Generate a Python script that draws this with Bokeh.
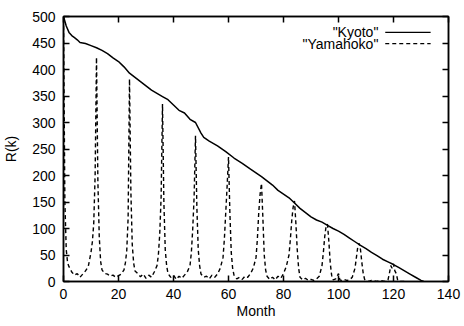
from bokeh.plotting import figure
from bokeh.models import LinearAxis, FixedTicker, Label, Arrow, CustomLabelingPolicy
from bokeh.embed import file_html
from bokeh.resources import INLINE

# ---- data ----
kyoto_month = [0, 1, 2, 3, 4, 5, 6, 7, 8, 10, 12, 14, 16, 18, 20, 22, 24, 26, 28, 30,
               32, 34, 36, 38, 40, 42, 44, 46, 48, 50, 51, 53, 56, 59, 62, 65, 68, 70,
               72, 74, 76, 78, 80, 82, 84, 86, 88, 90, 92, 94, 96, 98, 100, 102, 104,
               106, 108, 110, 112, 114, 116, 118, 120, 122, 124, 126, 128, 130, 131]
kyoto_r = [500, 482, 470, 464, 460, 456, 451, 450, 449, 445, 441, 436, 430, 422, 415,
           405, 393, 385, 377, 369, 361, 355, 349, 343, 333, 323, 318, 306, 300, 280,
           272, 265, 256, 245, 233, 223, 212, 205, 198, 190, 182, 172, 165, 158, 148,
           138, 130, 122, 116, 112, 106, 100, 95, 89, 82, 75, 68, 62, 55, 49, 42, 37,
           32, 26, 20, 14, 8, 2, 0]

yama_month = [0, 0.5, 1, 1.5, 2, 3, 4, 5, 6, 7, 8, 9, 10, 10.5, 11, 11.5, 12, 12.5, 13,
              13.5, 14, 15, 16, 17, 18, 19, 20, 21, 22, 22.5, 23, 23.5, 24, 24.5, 25,
              25.5, 26, 27, 28, 29, 30, 31, 32, 33, 34, 34.5, 35, 35.5, 36, 36.5, 37,
              37.5, 38, 39, 40, 41, 42, 43, 44, 45, 46, 46.5, 47, 47.5, 48, 48.5, 49,
              49.5, 50, 51, 52, 53, 54, 55, 56, 57, 58, 58.5, 59, 59.5, 60, 60.5, 61,
              61.5, 62, 63, 64, 65, 66, 67, 68, 69, 70, 70.5, 71, 71.5, 72, 72.5, 73,
              73.5, 74, 75, 76, 77, 78, 79, 80, 81, 82, 82.5, 83, 83.5, 84, 84.5, 85,
              85.5, 86, 87, 88, 89, 90, 91, 92, 93, 94, 94.5, 95, 95.5, 96, 96.5, 97,
              97.5, 98, 99, 100, 100.5, 101, 102, 103, 104, 105, 106, 106.5, 107, 107.5,
              108, 108.5, 109, 109.5, 110, 111, 112, 113, 114, 115, 116, 117, 118, 118.5,
              119, 119.5, 120, 120.5, 121, 121.5, 122, 124]
yama_r = [495, 150, 60, 35, 28, 18, 12, 15, 8, 14, 20, 28, 55, 75, 110, 200, 423, 190, 85,
          38, 22, 15, 14, 10, 12, 8, 11, 14, 22, 35, 58, 120, 382, 170, 70,
          35, 20, 15, 9, 14, 6, 12, 8, 18, 30, 50, 90, 160, 335, 150, 60,
          30, 15, 8, 12, 4, 10, 6, 12, 18, 30, 55, 100, 160, 275, 140, 60,
          30, 14, 8, 10, 5, 12, 8, 14, 25, 45, 80, 130, 180, 235, 130, 55,
          25, 12, 5, 8, 4, 10, 8, 15, 25, 45, 80, 130, 165, 185, 120, 50,
          22, 10, 4, 8, 3, 10, 6, 15, 28, 50, 80, 115, 140, 152, 110, 60,
          25, 8, 3, 6, 2, 4, 2, 5, 10, 30, 55, 85, 105, 108, 75, 35,
          12, 3, 5, 15, 3, 2, 4, 2, 3, 8, 25, 45, 65, 72,
          60, 35, 15, 4, 2, 0, 2, 1, 0, 2, 1, 0, 3, 15,
          30, 25, 33, 20, 15, 3, 0, 0]

x_ticks = [0, 20, 40, 60, 80, 100, 120, 140]
y_ticks = [0, 50, 100, 150, 200, 250, 300, 350, 400, 450, 500]
series_names = ['"Kyoto"', '"Yamahoko"']

FONT = "Liberation Sans"
FS = "14px"
DASH = "4 3"

p = figure(frame_width=385, frame_height=265, x_range=(0, 140), y_range=(0, 500),
           output_backend="svg", toolbar_location=None,
           min_border_left=60, min_border_right=3, min_border_top=8,
           min_border_bottom=37)
p.grid.visible = False
p.outline_line_color = "black"
p.outline_line_width = 1.5
p.background_fill_color = "white"
p.border_fill_color = "white"

p.line(yama_month, yama_r, line_color="black", line_width=1.4, line_dash=DASH)
p.line(kyoto_month, kyoto_r, line_color="black", line_width=1.5)

for ax in p.xaxis:
    ax.ticker = FixedTicker(ticks=x_ticks)
for ax in p.yaxis:
    ax.ticker = FixedTicker(ticks=y_ticks)

for ax in list(p.xaxis) + list(p.yaxis):
    ax.axis_line_color = "black"
    ax.axis_line_width = 1.5
    ax.major_tick_in = 6
    ax.major_tick_out = 0
    ax.major_tick_line_width = 1.5
    ax.minor_tick_line_color = None
    ax.major_label_text_font = FONT
    ax.major_label_text_font_size = FS
    ax.major_label_text_color = "black"
    ax.axis_label_text_font = FONT
    ax.axis_label_text_font_size = FS
    ax.axis_label_text_font_style = "normal"
    ax.axis_label_text_color = "black"

p.xaxis.axis_label = "Month"
p.xaxis.major_label_standoff = 7
p.xaxis.axis_label_standoff = 1
p.yaxis.axis_label = "R(k)"
p.yaxis.major_label_standoff = 8
p.yaxis.axis_label_standoff = 10

hide = "for (const i of [...indices]) { indices.unset(i) } return indices"
top = LinearAxis(ticker=FixedTicker(ticks=x_ticks),
                 major_label_policy=CustomLabelingPolicy(code=hide),
                 major_tick_in=6, major_tick_out=0, major_tick_line_width=1.5,
                 minor_tick_line_color=None, axis_line_width=1.5)
right = LinearAxis(ticker=FixedTicker(ticks=y_ticks),
                   major_label_policy=CustomLabelingPolicy(code=hide),
                   major_tick_in=6, major_tick_out=0, major_tick_line_width=1.5,
                   minor_tick_line_color=None, axis_line_width=1.5)
p.add_layout(top, "above")
p.add_layout(right, "right")

# legend (gnuplot style: label left, sample right)
p.add_layout(Label(x=114.5, y=470, text=series_names[0], text_align="right",
                   text_baseline="middle", text_font=FONT, text_font_size=FS,
                   text_color="black"))
p.add_layout(Label(x=114.5, y=449, text=series_names[1], text_align="right",
                   text_baseline="middle", text_font=FONT, text_font_size=FS,
                   text_color="black"))
p.add_layout(Arrow(end=None, x_start=117, y_start=470, x_end=133.5, y_end=470,
                   line_color="black", line_width=1.2))
p.add_layout(Arrow(end=None, x_start=117, y_start=449, x_end=133.5, y_end=449,
                   line_color="black", line_width=1.2, line_dash=DASH))

open("out.html", "w").write(file_html(p, INLINE))
